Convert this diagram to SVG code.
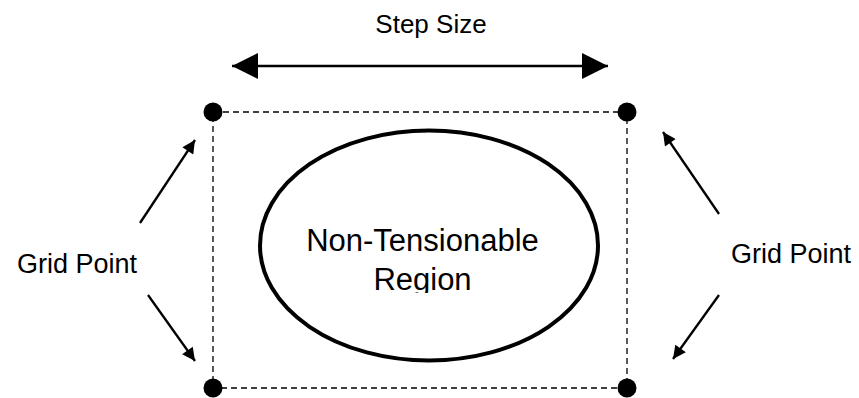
<svg xmlns="http://www.w3.org/2000/svg" width="859" height="398" viewBox="0 0 859 398">
<defs>
<marker id="ah" viewBox="0 0 10 10" refX="10" refY="5" markerWidth="17" markerHeight="13" markerUnits="userSpaceOnUse" orient="auto-start-reverse"><path d="M0,0 L10,5 L0,10 z" fill="#000"/></marker>
<marker id="big" viewBox="0 0 10 10" refX="10" refY="5" markerWidth="26" markerHeight="26" markerUnits="userSpaceOnUse" orient="auto-start-reverse"><path d="M0,0 L10,5 L0,10 z" fill="#000"/></marker>
<clipPath id="clipText"><rect x="250" y="130" width="360" height="163"/></clipPath>
<style>
.t{font-family:"Liberation Sans",Arial,sans-serif;fill:#000}
.dot{fill:#000}
.ar{stroke:#000;stroke-width:2.3;fill:none}
</style>
</defs>
<rect width="859" height="398" fill="#fff"/>
<g id="grid-cell">
<rect x="213" y="112" width="414" height="276" fill="none" stroke="#000" stroke-width="1.3" stroke-dasharray="6 4"/>
</g>
<g id="region">
<ellipse cx="429" cy="245.5" rx="169" ry="115" fill="none" stroke="#000" stroke-width="4"/>
<g clip-path="url(#clipText)">
<text class="t" x="422.5" y="251" font-size="31" text-anchor="middle">Non-Tensionable</text>
<text class="t" x="422.5" y="290" font-size="31" text-anchor="middle">Region</text>
</g>
</g>
<g id="gp-tl"><circle class="dot" cx="213" cy="112" r="9.5"/></g>
<g id="gp-tr"><circle class="dot" cx="627" cy="112" r="9.5"/></g>
<g id="gp-bl"><circle class="dot" cx="213" cy="388" r="9.5"/></g>
<g id="gp-br"><circle class="dot" cx="627" cy="388" r="9.5"/></g>
<g id="label-step"><text class="t" x="431" y="33" font-size="26" text-anchor="middle">Step Size</text></g>
<g id="label-gp-left"><text class="t" x="17" y="273" font-size="27">Grid Point</text></g>
<g id="label-gp-right"><text class="t" x="731" y="263" font-size="27">Grid Point</text></g>
<g id="connectors">
<line class="ar" x1="232" y1="66" x2="608" y2="66" marker-start="url(#big)" marker-end="url(#big)"/>
<line class="ar" x1="140" y1="223" x2="195" y2="140" marker-end="url(#ah)"/>
<line class="ar" x1="148" y1="295" x2="195" y2="361" marker-end="url(#ah)"/>
<line class="ar" x1="719" y1="214" x2="663" y2="132" marker-end="url(#ah)"/>
<line class="ar" x1="719" y1="295" x2="673" y2="359" marker-end="url(#ah)"/>
</g>
</svg>
